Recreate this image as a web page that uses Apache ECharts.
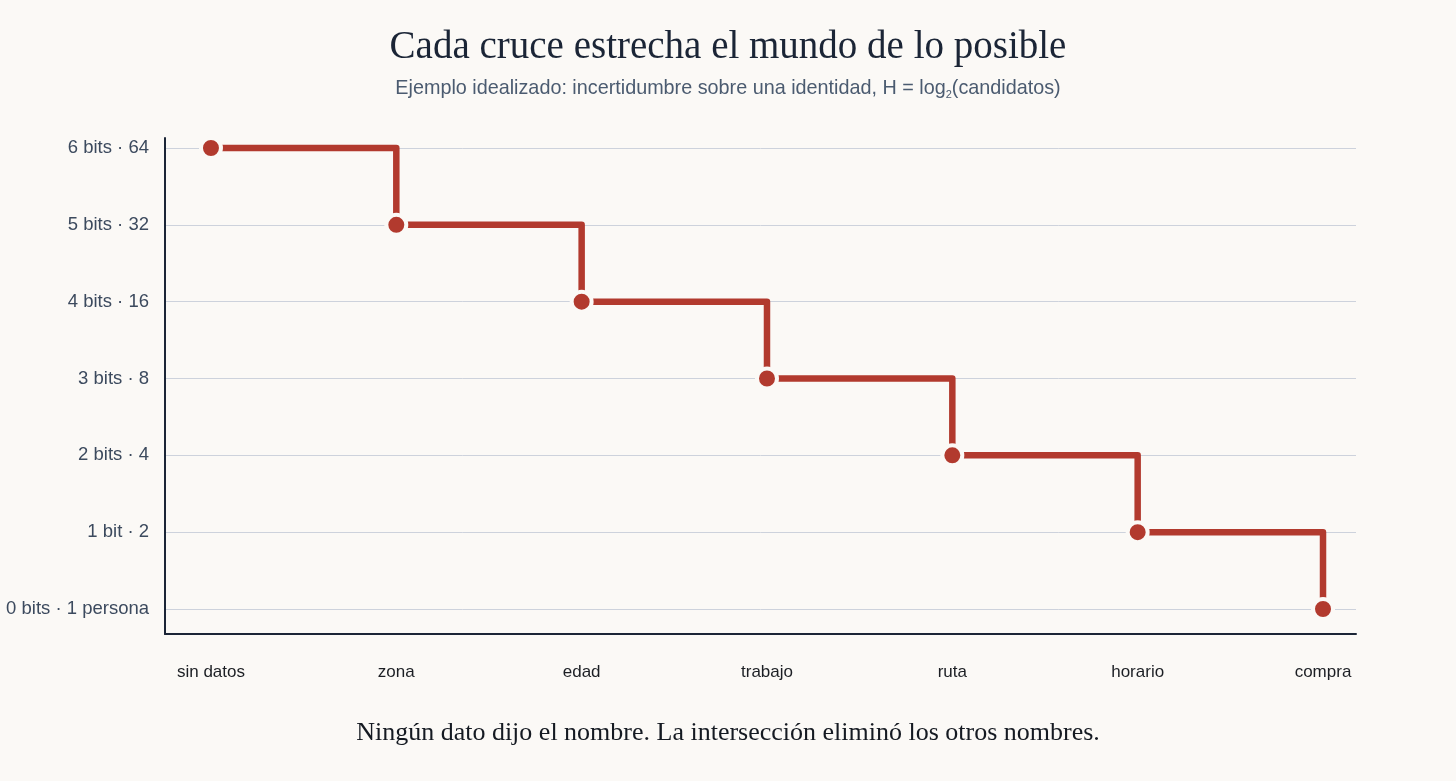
<!DOCTYPE html>
<html>
<head>
<meta charset="utf-8">
<script src="https://cdn.jsdelivr.net/npm/echarts@6/dist/echarts.min.js"></script>
<style>
  html, body { margin: 0; padding: 0; background: #fbf9f6; }
  #main { width: 1456px; height: 781px; }
</style>
</head>
<body>
<div id="main"></div>
<script>
// pasos del cruce de datos
const categories = ['sin datos', 'zona', 'edad', 'trabajo', 'ruta', 'horario', 'compra'];
const bits = [6, 5, 4, 3, 2, 1, 0];
const yTickValues = [0, 1, 2, 3, 4, 5, 6];
const yTickLabels = ['0 bits · 1 persona', '1 bit · 2', '2 bits · 4', '3 bits · 8', '4 bits · 16', '5 bits · 32', '6 bits · 64'];

let myChart = echarts.init(document.getElementById('main'));

let seriesData = function () {
    let out = [];
    for (let i = 0; i < categories.length; i++) {
        out.push([i, bits[i]]);
    }
    return out;
};

const serif = '"Liberation Serif", "DejaVu Serif", serif';
const sans = '"Liberation Sans", Arial, sans-serif';

let option = {
    backgroundColor: '#fbf9f6',
    title: [{
        text: 'Cada cruce estrecha el mundo de lo posible',
        left: 'center',
        top: 23,
        textStyle: { fontFamily: serif, fontSize: 39, fontWeight: 'normal', color: '#1b2536' },
        subtext: '{a|Ejemplo idealizado: incertidumbre sobre una identidad, H = log}{s|2}{a|(candidatos)}',
        itemGap: 10,
        subtextStyle: {
            rich: {
                a: { fontFamily: sans, fontSize: 19.8, color: '#4b5b70' },
                s: { fontFamily: sans, fontSize: 11, color: '#4b5b70', verticalAlign: 'bottom', padding: [12, 0, 0, 0] }
            }
        }
    }, {
        text: 'Ningún dato dijo el nombre. La intersección eliminó los otros nombres.',
        left: 'center',
        top: 715,
        textStyle: { fontFamily: serif, fontSize: 26, fontWeight: 'normal', color: '#151a22' }
    }],
    grid: { left: 165, right: 100, top: 138, bottom: 147 },
    xAxis: {
        type: 'value',
        min: -0.248,
        max: 6.178,
        axisLine: { show: true, onZero: false, lineStyle: { color: '#1b2536', width: 2 } },
        axisTick: { show: false, customValues: yTickValues },
        splitLine: { show: false },
        axisLabel: {
            customValues: yTickValues,
            margin: 30,
            fontFamily: sans,
            fontSize: 17,
            color: '#1c1f24',
            formatter: function (v) { return categories[Math.round(v)]; }
        }
    },
    yAxis: {
        type: 'value',
        min: -0.325,
        max: 6.13,
        axisLine: { show: true, onZero: false, lineStyle: { color: '#1b2536', width: 2 } },
        axisTick: { show: false, customValues: yTickValues },
        splitLine: { show: true, lineStyle: { color: '#cdd2dc', width: 1 } },
        axisLabel: {
            customValues: yTickValues,
            margin: 16,
            fontFamily: sans,
            fontSize: 18.5,
            color: '#3c4a5e',
            formatter: function (v) { return yTickLabels[Math.round(v)]; }
        }
    },
    series: [{
        name: 'bits',
        type: 'line',
        step: 'end',
        data: seriesData(),
        symbol: 'circle',
        symbolSize: 20,
        itemStyle: { color: '#b23a2e', borderColor: '#fbf9f6', borderWidth: 4 },
        lineStyle: { color: '#b23a2e', width: 6.5, join: 'round', cap: 'butt' },
        z: 3
    }]
};

myChart.setOption(option);
</script>
</body>
</html>
